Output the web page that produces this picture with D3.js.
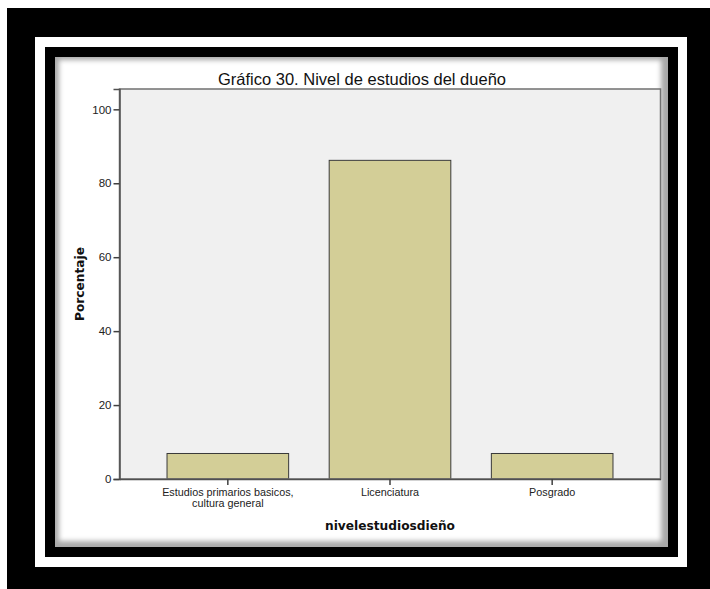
<!DOCTYPE html>
<html>
<head>
<meta charset="utf-8">
<script src="https://cdn.jsdelivr.net/npm/d3@7"></script>
<style>
  body { margin: 0; background: #fff; }
  svg { display: block; }
</style>
</head>
<body>
<div id="chart"></div>
<script>
var categories = ['Estudios primarios basicos,|cultura general', 'Licenciatura', 'Posgrado'];
var percentages = [6.9, 86.2, 6.9];
var yTicks = [0, 20, 40, 60, 80, 100];

var chartTitle = 'Gráfico 30. Nivel de estudios del dueño';
var xTitle = 'nivelestudiosdieño';
var yTitle = 'Porcentaje';

var W = 710, H = 589;
var plot = {left: 119.5, right: 660.5, top: 89, bottom: 479};

var svg = d3.select('#chart').append('svg')
    .attr('width', W)
    .attr('height', H);

// Frame: black / white / black / panel
svg.append('rect').attr('x', 7).attr('y', 8).attr('width', W - 7).attr('height', H - 8).attr('fill', '#000');
svg.append('rect').attr('x', 35).attr('y', 37).attr('width', 652).attr('height', 530).attr('fill', '#fff');
svg.append('rect').attr('x', 45).attr('y', 47).attr('width', 633).attr('height', 510).attr('fill', '#000');

var defs = svg.append('defs');
defs.append('filter').attr('id', 'soft')
    .attr('x', '-5%').attr('y', '-5%').attr('width', '110%').attr('height', '110%')
  .append('feGaussianBlur').attr('stdDeviation', 2.5);
defs.append('clipPath').attr('id', 'panelClip')
  .append('rect').attr('x', 55).attr('y', 57).attr('width', 613).attr('height', 490);

// Panel with inner shadow (a bit heavier on bottom/right)
var panel = svg.append('g').attr('clip-path', 'url(#panelClip)');
panel.append('rect').attr('x', 55).attr('y', 57).attr('width', 613).attr('height', 490).attr('fill', '#a8a8a8');
panel.append('rect').attr('x', 59).attr('y', 60).attr('width', 602).attr('height', 481)
    .attr('fill', '#fff').attr('filter', 'url(#soft)');

var x = d3.scaleBand()
    .domain(categories)
    .range([plot.left, plot.right])
    .paddingInner(0.25)
    .paddingOuter(0.293);

var y = d3.scaleLinear()
    .domain([0, 105.5])
    .range([plot.bottom, plot.top]);

// Plot background
svg.append('rect')
    .attr('x', plot.left).attr('y', plot.top)
    .attr('width', plot.right - plot.left).attr('height', plot.bottom - plot.top)
    .attr('fill', '#f0f0f0');

// Bars
svg.selectAll('.bar')
    .data(percentages)
  .enter().append('rect')
    .attr('class', 'bar')
    .attr('x', function (d, i) { return x(categories[i]); })
    .attr('y', function (d) { return y(d); })
    .attr('width', x.bandwidth())
    .attr('height', function (d) { return y(0) - y(d); })
    .attr('fill', '#d3ce97')
    .attr('stroke', '#3a3a3a')
    .attr('stroke-width', 1);

// Plot border
svg.append('rect')
    .attr('x', plot.left).attr('y', plot.top)
    .attr('width', plot.right - plot.left).attr('height', plot.bottom - plot.top)
    .attr('fill', 'none')
    .attr('stroke', '#707070')
    .attr('stroke-width', 1.5);

var tickFont = '10.8px "Liberation Sans", Arial, sans-serif';

// Y axis
var yAxis = d3.axisLeft(y).tickValues(yTicks).tickSize(6).tickPadding(2);
var gy = svg.append('g')
    .attr('transform', 'translate(' + plot.left + ',0)')
    .call(yAxis);
gy.select('.domain').attr('stroke', '#505050').attr('stroke-width', 1.5);
gy.selectAll('.tick line').attr('stroke', '#404040').attr('stroke-width', 1.5);
gy.selectAll('.tick text')
    .style('font', '11.5px "Liberation Sans", Arial, sans-serif')
    .attr('fill', '#222');

// X axis
var xAxis = d3.axisBottom(x).tickSize(6).tickSizeOuter(0).tickFormat(function () { return ''; });
var gx = svg.append('g')
    .attr('transform', 'translate(0,' + plot.bottom + ')')
    .call(xAxis);
gx.select('.domain').attr('stroke', '#505050').attr('stroke-width', 1.5);
gx.selectAll('.tick line').attr('stroke', '#404040').attr('stroke-width', 1.5);
gx.selectAll('.tick').each(function (d) {
  var lines = d.split('|');
  var t = d3.select(this).select('text')
      .attr('y', 0)
      .attr('dy', null)
      .style('font', tickFont)
      .attr('fill', '#222');
  lines.forEach(function (s, i) {
    t.append('tspan').attr('x', 0).attr('y', 17 + i * 11).text(s);
  });
});

// Titles
svg.append('text')
    .attr('x', 362).attr('y', 84.5)
    .attr('text-anchor', 'middle')
    .style('font', '16.5px "Liberation Sans", Arial, sans-serif')
    .attr('fill', '#111')
    .text(chartTitle);

svg.append('text')
    .attr('x', (plot.left + plot.right) / 2).attr('y', 530)
    .attr('text-anchor', 'middle')
    .style('font', 'bold 12.2px "DejaVu Sans", Verdana, sans-serif')
    .attr('fill', '#111')
    .text(xTitle);

svg.append('text')
    .attr('transform', 'translate(84,' + ((plot.top + plot.bottom) / 2) + ') rotate(-90)')
    .attr('text-anchor', 'middle')
    .style('font', 'bold 12.2px "DejaVu Sans", Verdana, sans-serif')
    .attr('fill', '#111')
    .text(yTitle);
</script>
</body>
</html>
